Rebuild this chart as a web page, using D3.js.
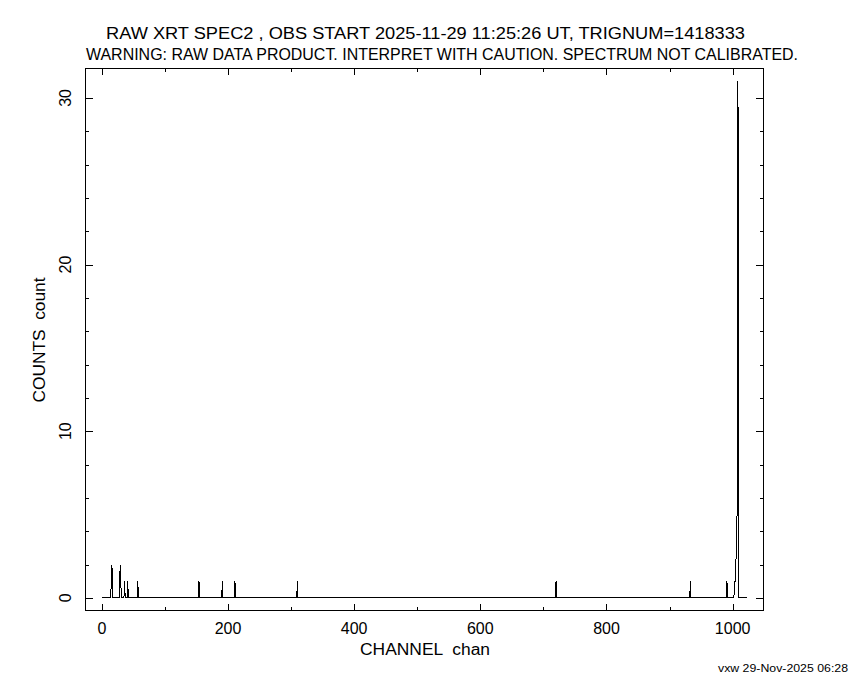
<!DOCTYPE html>
<html>
<head>
<meta charset="utf-8">
<script src="https://cdn.jsdelivr.net/npm/d3@7"></script>
<style>
  html, body { margin: 0; padding: 0; background: #fff; }
  svg { display: block; }
  text { font-family: "Liberation Sans", "DejaVu Sans", sans-serif; fill: #000; white-space: pre; }
</style>
</head>
<body>
<svg id="chart" width="850" height="680"></svg>
<script>
// ---- data ----
const nChannels = 1024;                       // channels 0..1023
const nonzeroChannels = [15, 16, 29, 30, 36, 41, 57, 154, 191, 211, 310, 720, 933, 991, 1003, 1004, 1005, 1006, 1007, 1008, 1009];
const nonzeroCounts   = [ 1,  2,  2,  1,  1,  1,  1,   1,   1,   1,   1,   1,   1,   1,    1,    1,    2,    3,    5,   31,   28];
const xMajorTicks = [0, 200, 400, 600, 800, 1000];
const xMinorTicks = [100, 300, 500, 700, 900];
const yMajorTicks = [0, 10, 20, 30];
const yMinorTicks = [2, 4, 6, 8, 12, 14, 16, 18, 22, 24, 26, 28];
const title1 = "RAW XRT SPEC2 , OBS START 2025-11-29 11:25:26 UT, TRIGNUM=1418333";
const title2 = "WARNING: RAW DATA PRODUCT. INTERPRET WITH CAUTION. SPECTRUM NOT CALIBRATED.";
const xTitle = "CHANNEL  chan";
const yTitle = "COUNTS  count";
const footer = "vxw 29-Nov-2025 06:28";

(function () {
// build full spectrum table
const counts = new Array(nChannels).fill(0);
nonzeroChannels.forEach((c, i) => { counts[c] = nonzeroCounts[i]; });
const spectrum = counts.map((v, i) => ({ ch: i, v }));

// ---- layout ----
const pL = 85.7, pR = 763.3, pT = 68.3, pB = 610.8;
const svg = d3.select("#chart");

const x = d3.scaleLinear().domain([-25.6, 1048.6]).range([pL, pR]);
const y = d3.scaleLinear().domain([-0.775, 31.775]).range([pB, pT]);

// spectrum polyline
const line = d3.line().x(d => x(d.ch)).y(d => y(d.v)).curve(d3.curveLinear);
svg.append("path")
  .datum(spectrum)
  .attr("d", line)
  .attr("fill", "none")
  .attr("stroke", "#000")
  .attr("stroke-width", 1)
  .attr("shape-rendering", "crispEdges");

// frame
svg.append("rect")
  .attr("x", pL).attr("y", pT)
  .attr("width", pR - pL).attr("height", pB - pT)
  .attr("fill", "none").attr("stroke", "#000").attr("stroke-width", 1)
  .attr("shape-rendering", "crispEdges");

const major = 7, minor = 3.5;
function ticks(axisFn, scale, vals, size, tx, ty) {
  const g = svg.append("g").attr("transform", `translate(${tx},${ty})`)
    .call(axisFn(scale).tickValues(vals).tickSize(size).tickFormat(""));
  g.select(".domain").remove();
  g.selectAll("line").attr("stroke", "#000").attr("shape-rendering", "crispEdges");
}
ticks(d3.axisBottom, x, xMajorTicks, -major, 0, pB);
ticks(d3.axisBottom, x, xMinorTicks, -minor, 0, pB);
ticks(d3.axisTop, x, xMajorTicks, -major, 0, pT);
ticks(d3.axisTop, x, xMinorTicks, -minor, 0, pT);
ticks(d3.axisLeft, y, yMajorTicks, -major, pL, 0);
ticks(d3.axisLeft, y, yMinorTicks, -minor, pL, 0);
ticks(d3.axisRight, y, yMajorTicks, -major, pR, 0);
ticks(d3.axisRight, y, yMinorTicks, -minor, pR, 0);

const fs = 16;
// x tick labels
svg.append("g").selectAll("text").data(xMajorTicks).join("text")
  .attr("x", d => x(d)).attr("y", 634)
  .attr("text-anchor", "middle").attr("font-size", fs)
  .text(d => d);

// y tick labels (rotated)
svg.append("g").selectAll("text").data(yMajorTicks).join("text")
  .attr("transform", d => `translate(71,${y(d)}) rotate(-90)`)
  .attr("text-anchor", "middle").attr("font-size", fs)
  .text(d => d);

// titles
svg.append("text").attr("x", 425.5).attr("y", 39).attr("text-anchor", "middle")
  .attr("font-size", fs).attr("textLength", 639).attr("lengthAdjust", "spacingAndGlyphs").text(title1);
svg.append("text").attr("x", 442).attr("y", 60).attr("text-anchor", "middle")
  .attr("font-size", fs).attr("textLength", 712).attr("lengthAdjust", "spacingAndGlyphs").text(title2);

// axis titles
svg.append("text").attr("x", 425).attr("y", 655).attr("text-anchor", "middle")
  .attr("font-size", fs).attr("textLength", 130).attr("lengthAdjust", "spacingAndGlyphs").text(xTitle);
svg.append("text").attr("transform", "translate(45,340) rotate(-90)").attr("text-anchor", "middle")
  .attr("font-size", fs).attr("textLength", 125).attr("lengthAdjust", "spacingAndGlyphs").text(yTitle);

// footer
svg.append("text").attr("x", 848).attr("y", 672).attr("text-anchor", "end")
  .attr("font-size", 10).attr("textLength", 130).attr("lengthAdjust", "spacingAndGlyphs").text(footer);
})();
</script>
</body>
</html>
